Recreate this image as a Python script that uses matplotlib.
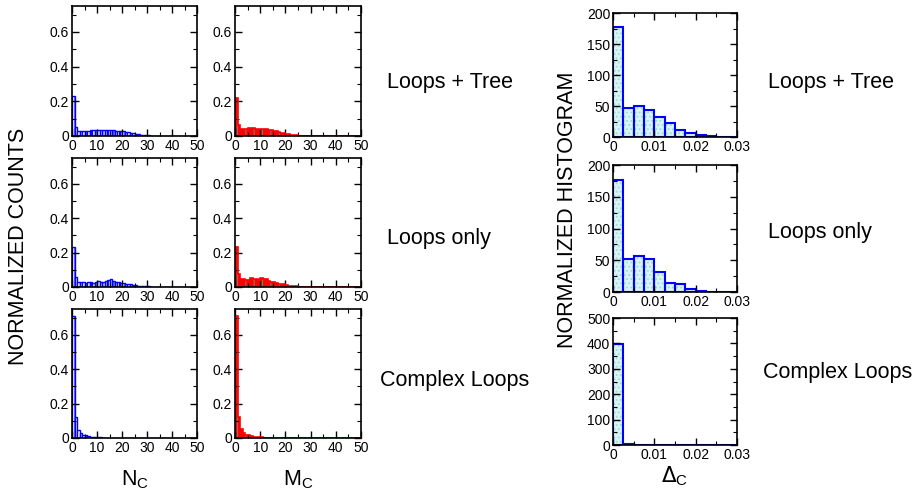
import matplotlib.pyplot as plt
import numpy as np
from matplotlib.ticker import MultipleLocator

plt.rcParams['font.family'] = ['Liberation Sans', 'DejaVu Sans']
plt.rcParams['hatch.linewidth'] = 0.8

# Nc / Mc histograms, unit bins from 0 to 50
nc_bins = np.arange(0, 51)

nc_tree = [0.23, 0.05, 0.03, 0.03, 0.03, 0.03, 0.03, 0.032, 0.032, 0.033,
           0.033, 0.033, 0.033, 0.033, 0.033, 0.032, 0.032, 0.03, 0.03, 0.028,
           0.026, 0.024, 0.022, 0.019, 0.016, 0.013, 0.01, 0.008, 0.006, 0.004,
           0.003, 0.002, 0.0015, 0.001, 0.001, 0.0005]
mc_tree = [0.22, 0.065, 0.04, 0.04, 0.042, 0.044, 0.044, 0.044, 0.043, 0.043,
           0.042, 0.04, 0.038, 0.035, 0.032, 0.03, 0.027, 0.024, 0.02, 0.016,
           0.013, 0.01, 0.007, 0.005, 0.003, 0.002, 0.001, 0.0005]
nc_loops = [0.23, 0.06, 0.03, 0.03, 0.03, 0.025, 0.03, 0.03, 0.025, 0.03,
            0.035, 0.03, 0.03, 0.035, 0.04, 0.045, 0.035, 0.03, 0.028, 0.025,
            0.025, 0.02, 0.018, 0.015, 0.012, 0.01, 0.008, 0.006, 0.005, 0.004,
            0.003, 0.002, 0.002, 0.001, 0.001]
mc_loops = [0.23, 0.075, 0.045, 0.045, 0.04, 0.04, 0.05, 0.045, 0.045, 0.04,
            0.05, 0.045, 0.045, 0.035, 0.03, 0.03, 0.025, 0.02, 0.018, 0.015,
            0.012, 0.008, 0.006, 0.004, 0.003, 0.002, 0.001]
nc_complex = [0.71, 0.12, 0.045, 0.03, 0.02, 0.015, 0.01, 0.008, 0.006, 0.005,
              0.004, 0.003, 0.002, 0.002, 0.001]
mc_complex = [0.71, 0.12, 0.05, 0.03, 0.02, 0.015, 0.01, 0.008, 0.006, 0.004,
              0.003, 0.002]

# Delta_c histograms, bins of 0.0025 from 0 to 0.03
dc_bins = np.linspace(0, 0.03, 13)
dc_tree = [177, 47, 50, 44, 33, 22, 12, 7, 3, 1, 0.5, 0]
dc_loops = [176, 52, 56, 52, 32, 14, 13, 4, 1, 0, 0, 0]
dc_complex = [398, 3, 1, 0, 0, 0, 0, 0, 0, 0, 0, 0]

row_names = ['Loops + Tree', 'Loops only', 'Complex Loops']


def pad(v, n):
    return list(v) + [0] * (n - len(v))


def style(ax):
    ax.tick_params(which='both', direction='in', top=True, right=True,
                   labelsize=10, pad=2)
    ax.tick_params(which='major', length=5, width=1)
    ax.tick_params(which='minor', length=3, width=0.8)
    for s in ax.spines.values():
        s.set_linewidth(1.2)


fig = plt.figure(figsize=(9.14, 4.92), dpi=100)

left_rows = [(0.7236, 0.2642), (0.4167, 0.2622), (0.1098, 0.2622)]
right_rows = [(0.7215, 0.252), (0.4065, 0.258), (0.0955, 0.258)]
left_text = [(0.423, 0.833), (0.423, 0.516), (0.416, 0.226)]
right_text = [(0.840, 0.833), (0.840, 0.528), (0.835, 0.242)]

nc_data = [nc_tree, nc_loops, nc_complex]
mc_data = [mc_tree, mc_loops, mc_complex]
dc_data = [dc_tree, dc_loops, dc_complex]
dc_top = [200, 200, 500]

for r in range(3):
    b, h = left_rows[r]
    # Nc
    ax = fig.add_axes([0.0788, b, 0.1368, h])
    ax.hist(nc_bins[:-1], bins=nc_bins, weights=pad(nc_data[r], 50),
            histtype='bar', facecolor='white', edgecolor='blue',
            linewidth=1.0, hatch='|||')
    ax.set_xlim(0, 50)
    ax.set_ylim(0, 0.75)
    ax.xaxis.set_major_locator(MultipleLocator(10))
    ax.xaxis.set_minor_locator(MultipleLocator(5))
    ax.yaxis.set_minor_locator(MultipleLocator(0.1))
    ax.set_yticks([0, 0.2, 0.4, 0.6])
    ax.set_yticklabels(['0', '0.2', '0.4', '0.6'])
    style(ax)
    if r == 2:
        ax.set_xlabel('N$_\\mathregular{C}$', fontsize=15.5, labelpad=10)

    # Mc
    ax = fig.add_axes([0.2571, b, 0.1379, h])
    ax.hist(nc_bins[:-1], bins=nc_bins, weights=pad(mc_data[r], 50),
            histtype='bar', facecolor='red', edgecolor='#777777',
            linewidth=0.0, hatch='||')
    ax.hist(nc_bins[:-1], bins=nc_bins, weights=pad(mc_data[r], 50),
            histtype='step', color='red', linewidth=1.2)
    ax.set_xlim(0, 50)
    ax.set_ylim(0, 0.75)
    ax.xaxis.set_major_locator(MultipleLocator(10))
    ax.xaxis.set_minor_locator(MultipleLocator(5))
    ax.yaxis.set_minor_locator(MultipleLocator(0.1))
    ax.set_yticks([0, 0.2, 0.4, 0.6])
    ax.set_yticklabels(['0', '0.2', '0.4', '0.6'])
    style(ax)
    if r == 2:
        ax.set_xlabel('M$_\\mathregular{C}$', fontsize=15.5, labelpad=10)

    fig.text(left_text[r][0], left_text[r][1], row_names[r],
             fontsize=15.5, ha='left', va='center')

    # Delta_c
    b2, h2 = right_rows[r]
    ax = fig.add_axes([0.6707, b2, 0.1357, h2])
    ax.hist(dc_bins[:-1] + 0.001, bins=dc_bins, weights=dc_data[r],
            histtype='bar', facecolor='#d8f4f4', edgecolor='#99dddd',
            linewidth=0.0, hatch='....')
    ax.hist(dc_bins[:-1] + 0.001, bins=dc_bins, weights=dc_data[r],
            histtype='bar', fill=False, edgecolor='blue', linewidth=1.5)
    ax.set_xlim(0, 0.03)
    ax.set_ylim(0, dc_top[r])
    ax.set_xticks([0, 0.01, 0.02, 0.03])
    ax.set_xticklabels(['0', '0.01', '0.02', '0.03'])
    ax.xaxis.set_minor_locator(MultipleLocator(0.005))
    if dc_top[r] == 200:
        ax.yaxis.set_major_locator(MultipleLocator(50))
        ax.yaxis.set_minor_locator(MultipleLocator(25))
    else:
        ax.yaxis.set_major_locator(MultipleLocator(100))
        ax.yaxis.set_minor_locator(MultipleLocator(50))
    style(ax)
    if r == 2:
        ax.set_xlabel('$\\Delta_\\mathregular{C}$', fontsize=15.5, labelpad=2)

    fig.text(right_text[r][0], right_text[r][1], row_names[r],
             fontsize=15.5, ha='left', va='center')

fig.text(0.02, 0.5, 'NORMALIZED COUNTS', rotation=90, fontsize=15.5,
         ha='center', va='center')
fig.text(0.621, 0.573, 'NORMALIZED HISTOGRAM', rotation=90, fontsize=15.5,
         ha='center', va='center')

fig.savefig('out.png', dpi=100)
